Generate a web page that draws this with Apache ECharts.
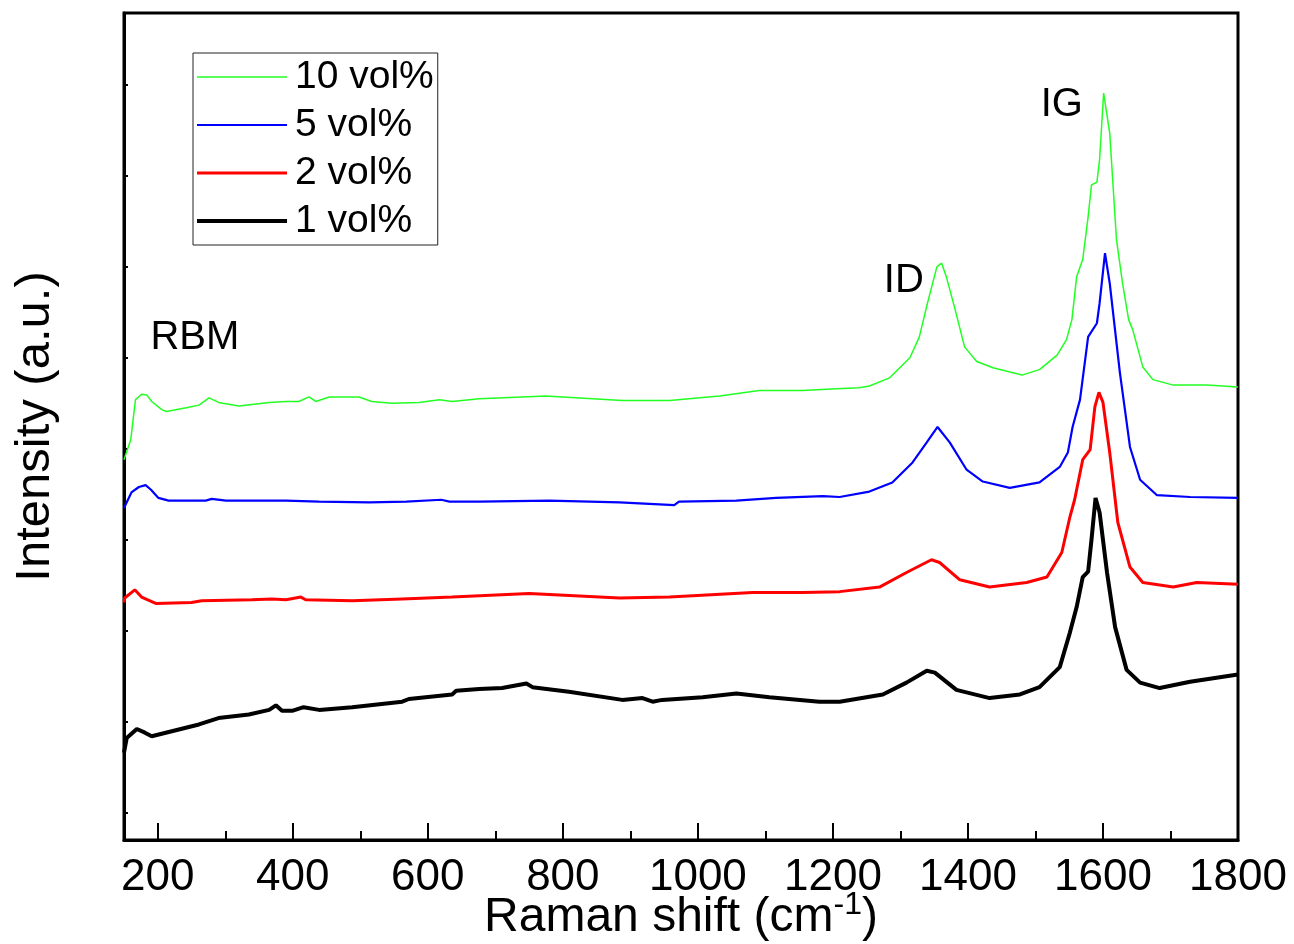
<!DOCTYPE html>
<html>
<head>
<meta charset="utf-8">
<script src="https://cdn.jsdelivr.net/npm/echarts@6/dist/echarts.min.js"></script>
<style>
html,body{margin:0;padding:0;background:#fff;}
#main{width:1294px;height:944px;}
</style>
</head>
<body>
<div id="main"></div>
<script>
// Raman spectra, [shift cm-1, intensity a.u.]
var vol10 = [[150,3.88],[151,3.90],[160,4.10],[167,4.54],[176,4.60],[184,4.59],[191,4.52],[206,4.43],[213,4.41],
  [242,4.45],[261,4.48],[276,4.56],[290,4.51],[320,4.47],[365,4.51],[390,4.52],[409,4.52],[424,4.57],[434,4.52],
  [454,4.57],[498,4.57],[517,4.52],[547,4.50],[587,4.51],[617,4.54],[636,4.52],[676,4.55],[775,4.58],[888,4.53],
  [958,4.53],[1032,4.58],[1091,4.64],[1155,4.64],[1205,4.66],[1239,4.67],[1254,4.69],[1284,4.78],[1314,5.00],
  [1328,5.23],[1340,5.60],[1354,6.00],[1361,6.04],[1368,5.89],[1380,5.56],[1395,5.12],[1413,4.96],[1437,4.89],
  [1480,4.81],[1506,4.87],[1532,5.03],[1546,5.20],[1554,5.42],[1561,5.89],[1570,6.08],[1578,6.55],[1583,6.90],
  [1591,6.93],[1595,7.18],[1601,7.91],[1610,7.47],[1620,6.30],[1629,5.82],[1638,5.42],[1644,5.31],[1659,4.90],
  [1674,4.76],[1704,4.70],[1754,4.70],[1800,4.68]];
var vol5 = [[150,3.35],[151,3.36],[161,3.52],[172,3.58],[182,3.60],[190,3.55],[201,3.46],[216,3.43],[271,3.43],
  [280,3.45],[301,3.43],[390,3.43],[439,3.42],[513,3.41],[568,3.42],[620,3.44],[632,3.42],[676,3.42],[780,3.43],
  [884,3.41],[965,3.38],[972,3.42],[1057,3.43],[1116,3.46],[1185,3.48],[1210,3.47],[1254,3.53],[1288,3.63],
  [1318,3.85],[1339,4.07],[1355,4.24],[1373,4.07],[1398,3.77],[1422,3.64],[1462,3.57],[1506,3.63],[1536,3.80],
  [1548,3.96],[1555,4.24],[1566,4.54],[1578,5.23],[1591,5.38],[1595,5.60],[1603,6.15],[1610,5.82],[1625,4.84],
  [1640,4.02],[1655,3.66],[1680,3.49],[1729,3.47],[1800,3.46]];
var vol2 = [[150,2.31],[151,2.36],[166,2.45],[176,2.37],[197,2.30],[250,2.31],[265,2.33],[339,2.34],[369,2.35],
  [390,2.34],[412,2.37],[419,2.34],[488,2.33],[562,2.35],[636,2.37],[750,2.41],[884,2.36],[958,2.37],[1081,2.42],
  [1155,2.42],[1210,2.43],[1269,2.48],[1309,2.64],[1346,2.78],[1358,2.75],[1388,2.56],[1432,2.48],[1487,2.53],
  [1517,2.59],[1539,2.86],[1551,3.25],[1558,3.44],[1570,3.88],[1581,3.99],[1588,4.46],[1594,4.62],[1600,4.51],
  [1610,3.96],[1622,3.19],[1640,2.70],[1659,2.53],[1704,2.48],[1739,2.53],[1800,2.51]];
var vol1 = [[150,0.66],[154,0.82],[169,0.92],[181,0.88],[191,0.84],[261,0.97],[290,1.04],[335,1.08],[365,1.13],
  [375,1.18],[384,1.12],[399,1.12],[416,1.16],[439,1.13],[488,1.16],[562,1.22],[572,1.25],[636,1.30],[642,1.34],
  [676,1.36],[710,1.37],[746,1.42],[755,1.38],[809,1.33],[888,1.24],[918,1.26],[933,1.22],[947,1.24],[1007,1.27],
  [1057,1.31],[1106,1.27],[1180,1.22],[1210,1.22],[1274,1.30],[1309,1.43],[1339,1.56],[1351,1.54],[1383,1.35],
  [1432,1.26],[1477,1.30],[1506,1.38],[1536,1.60],[1551,1.98],[1561,2.26],[1570,2.59],[1578,2.65],[1583,3.00],
  [1589,3.46],[1595,3.30],[1606,2.64],[1618,2.04],[1635,1.57],[1655,1.43],[1684,1.37],[1729,1.44],[1800,1.52]];

var seriesNames = ['10 vol%', '5 vol%', '2 vol%', '1 vol%'];
var majorTicks = [200, 400, 600, 800, 1000, 1200, 1400, 1600, 1800];
var minorTicks = [300, 500, 700, 900, 1100, 1300, 1500, 1700];
var yTicks = [0, 1, 2, 3, 4, 5, 6, 7, 8];
var peakLabels = [['RBM', 255, 5.22], ['ID', 1305, 5.84], ['IG', 1539, 7.78]];

var FONT = 'Liberation Sans, Arial, sans-serif';
var colors = {'10 vol%': '#22ff22', '5 vol%': '#0000ff', '2 vol%': '#ff0000', '1 vol%': '#000000'};
var widths = {'10 vol%': 1.5, '5 vol%': 2.2, '2 vol%': 3, '1 vol%': 4};
var chart = echarts.init(document.getElementById('main'));

function line(name, data) {
  return {
    name: name, type: 'line', data: data, symbol: 'none', smooth: false,
    lineStyle: {color: colors[name], width: widths[name]}, itemStyle: {color: colors[name]}
  };
}

var option = {
  animation: false,
  backgroundColor: '#fff',
  grid: {left: 124, right: 56, top: 13, bottom: 104, show: true, borderColor: '#000', borderWidth: 3,
    outerBoundsMode: 'none'},
  legend: {
    orient: 'vertical', left: 193, top: 53,
    data: seriesNames.map(function (n) {
      return {name: n, lineStyle: {color: colors[n], width: widths[n]}};
    }),
    itemWidth: 90, itemHeight: 14, itemGap: 8,
    itemStyle: {opacity: 0},
    padding: [4, 4, 4, 2],
    borderColor: '#222', borderWidth: 1,
    textStyle: {fontFamily: FONT, fontSize: 39, color: '#000', lineHeight: 40, padding: [0, 0, 0, 3]}
  },
  xAxis: [{
    type: 'value', min: 150, max: 1800, position: 'bottom',
    name: 'Raman shift (cm{sup|-1})', nameLocation: 'middle', nameGap: 49, nameMoveOverlap: false,
    nameTextStyle: {
      fontFamily: FONT, fontSize: 48, color: '#000',
      rich: {sup: {fontFamily: FONT, fontSize: 32, color: '#000', verticalAlign: 'top', padding: [0, 0, 26, 0]}}
    },
    axisLine: {onZero: false, lineStyle: {color: '#000', width: 3}},
    axisTick: {inside: true, length: 17, lineStyle: {color: '#000', width: 2}, customValues: majorTicks},
    axisLabel: {fontFamily: FONT, fontSize: 44, color: '#000', margin: 16, customValues: majorTicks,
      formatter: function (v) { return String(v); }},
    splitLine: {show: false}
  }, {
    type: 'value', min: 150, max: 1800, position: 'bottom',
    axisLine: {show: false, onZero: false},
    axisTick: {inside: true, length: 9, lineStyle: {color: '#000', width: 2}, customValues: minorTicks},
    axisLabel: {show: false},
    splitLine: {show: false}
  }],
  yAxis: {
    type: 'value', min: -0.3, max: 8.79,
    name: 'Intensity (a.u.)', nameLocation: 'middle', nameGap: 64, nameMoveOverlap: false,
    nameTextStyle: {fontFamily: FONT, fontSize: 49, color: '#000'},
    axisLine: {onZero: false, lineStyle: {color: '#000', width: 3}},
    axisTick: {inside: true, length: 4, lineStyle: {color: '#000', width: 2}, customValues: yTicks},
    axisLabel: {show: false},
    splitLine: {show: false}
  },
  series: seriesNames.map(function (n, i) {
    return line(n, [vol10, vol5, vol2, vol1][i]);
  })
};
chart.setOption(option);

var texts = peakLabels.map(function (p) {
  var pt = chart.convertToPixel({xAxisIndex: 0, yAxisIndex: 0}, [p[1], p[2]]);
  return {
    type: 'text', x: pt[0], y: pt[1],
    style: {text: p[0], fontFamily: FONT, fontSize: 40, fill: '#000', align: 'center', verticalAlign: 'middle'}
  };
});
chart.setOption({graphic: texts});
</script>
</body>
</html>
